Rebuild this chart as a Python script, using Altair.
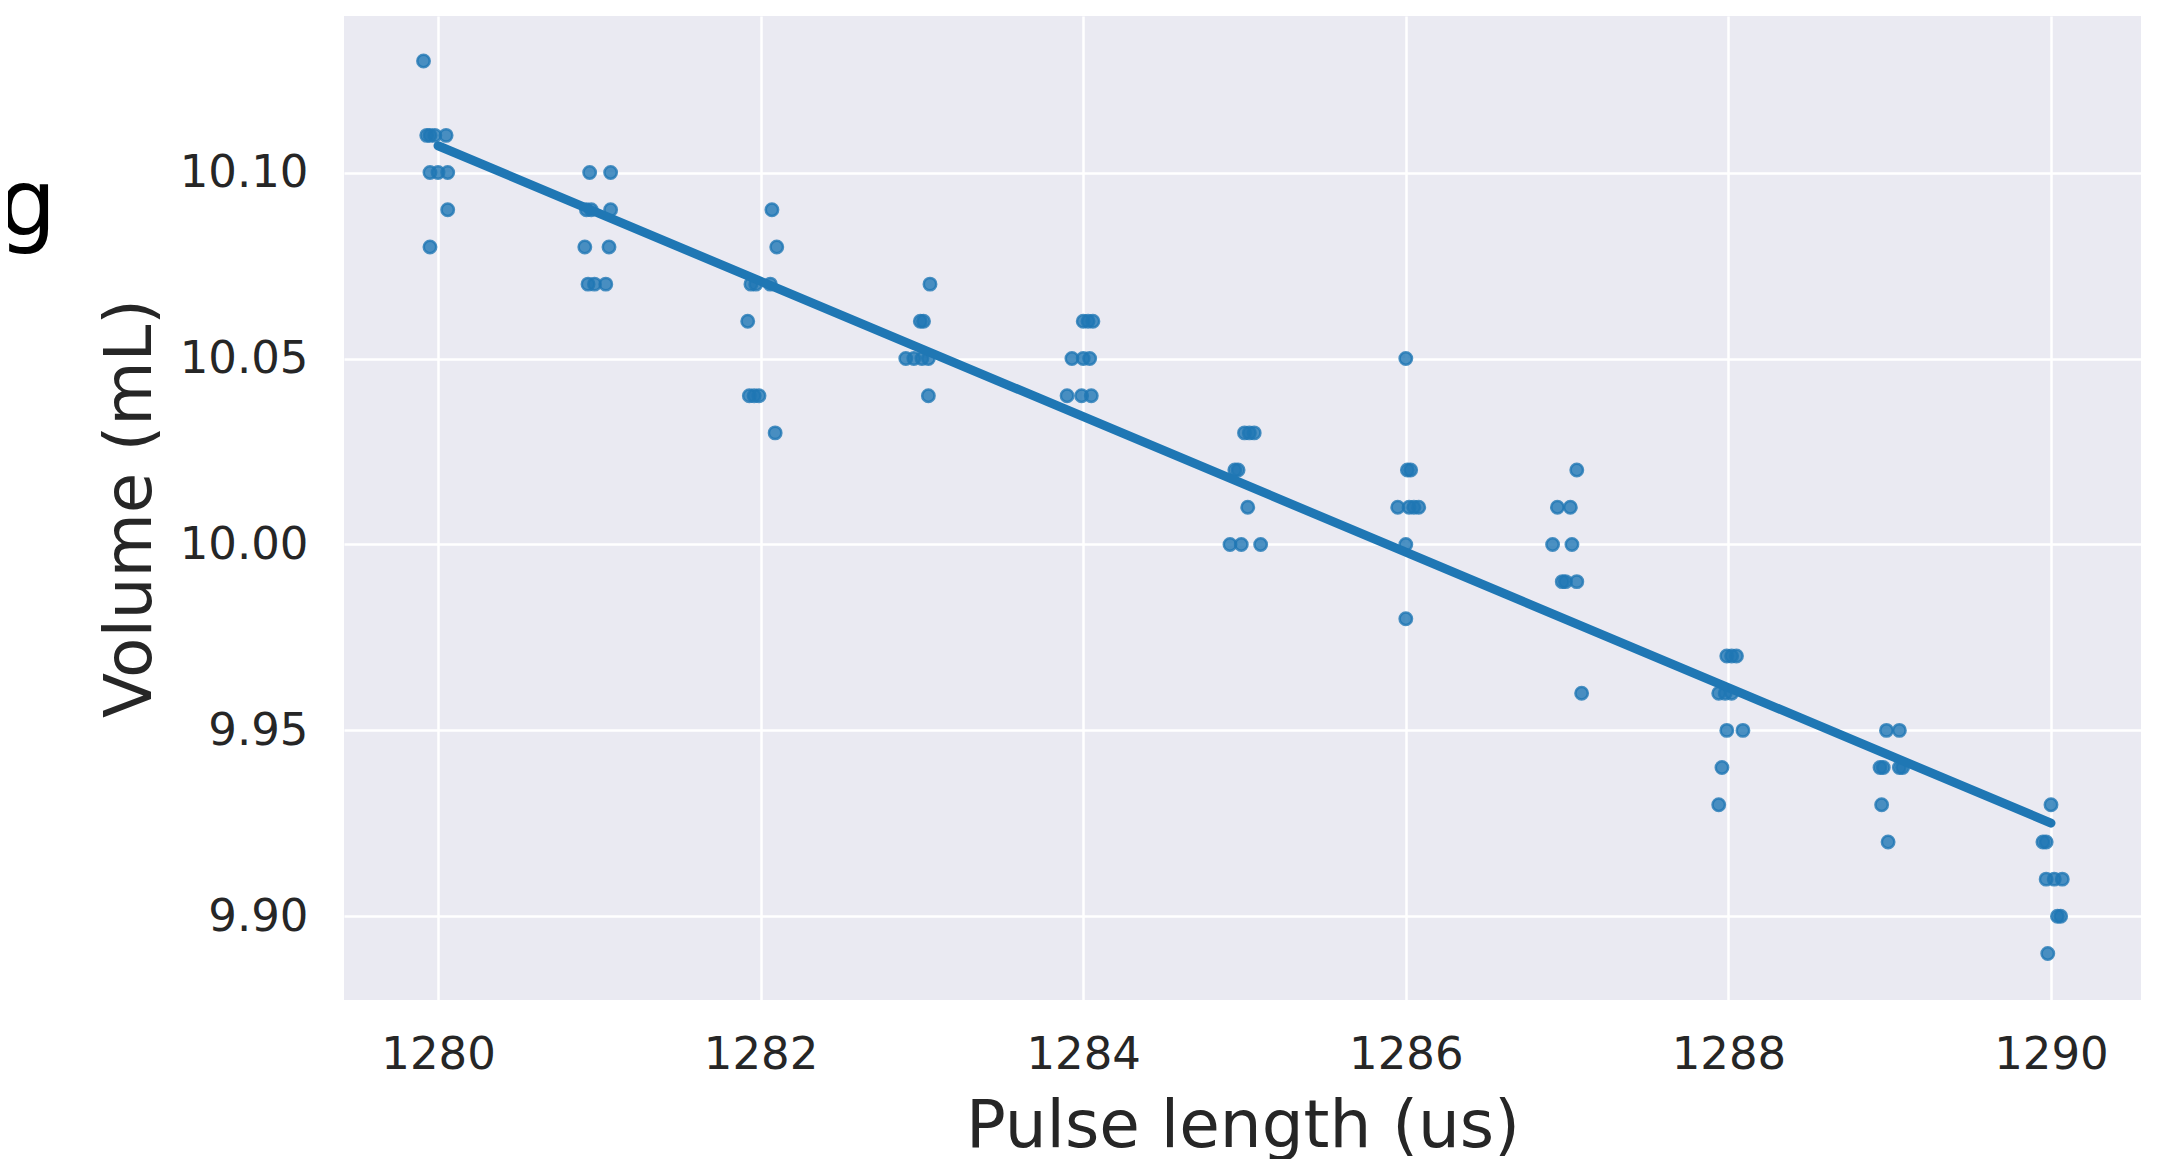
import altair as alt
import pandas as pd

# Pulse length (jittered x as drawn) and measured volume
x_vals = [
    1279.91,
    1279.93, 1279.95, 1279.98, 1280.05,
    1279.95, 1280.00, 1280.06,
    1280.06,
    1279.95,
    # 1281
    1280.94, 1281.07,
    1280.92, 1280.95, 1281.07,
    1280.91, 1281.06,
    1280.93, 1280.97, 1281.04,
    # 1282
    1282.07,
    1282.10,
    1281.94, 1281.97, 1282.06,
    1281.92,
    1281.93, 1281.96, 1281.99,
    1282.09,
    # 1283
    1283.05,
    1282.99, 1283.01,
    1282.90, 1282.95, 1283.00, 1283.04,
    1283.04,
    # 1284
    1284.00, 1284.03, 1284.06,
    1283.93, 1284.00, 1284.04,
    1283.90, 1283.99, 1284.05,
    # 1285
    1285.00, 1285.03, 1285.06,
    1284.94, 1284.96,
    1285.02,
    1284.91, 1284.98, 1285.10,
    # 1286
    1286.00,
    1286.01, 1286.03,
    1285.95, 1286.02, 1286.05, 1286.08,
    1286.00,
    1286.00,
    # 1287
    1287.06,
    1286.94, 1287.02,
    1286.91, 1287.03,
    1286.97, 1286.99, 1287.06,
    1287.09,
    # 1288
    1287.99, 1288.02, 1288.05,
    1287.94, 1287.98, 1288.02,
    1287.99, 1288.09,
    1287.96,
    1287.94,
    # 1289
    1288.98, 1289.06,
    1288.94, 1288.96, 1289.06, 1289.08,
    1288.95,
    1288.99,
    # 1290
    1290.00,
    1289.95, 1289.97,
    1289.97, 1290.02, 1290.07,
    1290.04, 1290.06,
    1289.98,
]
y_vals = [
    10.13,
    10.11, 10.11, 10.11, 10.11,
    10.10, 10.10, 10.10,
    10.09,
    10.08,
    # 1281
    10.10, 10.10,
    10.09, 10.09, 10.09,
    10.08, 10.08,
    10.07, 10.07, 10.07,
    # 1282
    10.09,
    10.08,
    10.07, 10.07, 10.07,
    10.06,
    10.04, 10.04, 10.04,
    10.03,
    # 1283
    10.07,
    10.06, 10.06,
    10.05, 10.05, 10.05, 10.05,
    10.04,
    # 1284
    10.06, 10.06, 10.06,
    10.05, 10.05, 10.05,
    10.04, 10.04, 10.04,
    # 1285
    10.03, 10.03, 10.03,
    10.02, 10.02,
    10.01,
    10.00, 10.00, 10.00,
    # 1286
    10.05,
    10.02, 10.02,
    10.01, 10.01, 10.01, 10.01,
    10.00,
    9.98,
    # 1287
    10.02,
    10.01, 10.01,
    10.00, 10.00,
    9.99, 9.99, 9.99,
    9.96,
    # 1288
    9.97, 9.97, 9.97,
    9.96, 9.96, 9.96,
    9.95, 9.95,
    9.94,
    9.93,
    # 1289
    9.95, 9.95,
    9.94, 9.94, 9.94, 9.94,
    9.93,
    9.92,
    # 1290
    9.93,
    9.92, 9.92,
    9.91, 9.91, 9.91,
    9.90, 9.90,
    9.89,
]

x_ticks = [1280, 1282, 1284, 1286, 1288, 1290]
y_ticks = [9.90, 9.95, 10.00, 10.05, 10.10]
x_domain = [1279.417, 1290.558]
y_domain = [9.8775, 10.1421]
fragment_text = ["g"]

df = pd.DataFrame({"x": x_vals, "y": y_vals})
BLUE = "#1f77b4"

x_scale = alt.Scale(domain=x_domain, nice=False, zero=False)
y_scale = alt.Scale(domain=y_domain, nice=False, zero=False)

x_axis = alt.Axis(
    values=x_ticks, format="d", title="Pulse length (us)",
    labelBaseline="alphabetic", labelPadding=68,
    titleBaseline="alphabetic", titleY=146,
)
y_axis = alt.Axis(
    values=y_ticks, format=".2f", title="Volume (mL)",
    labelPadding=36, labelBaseline="middle",
    titleAngle=270, titleBaseline="alphabetic", titleAlign="center",
    titleX=-194, titleY=492,
)

base = alt.Chart(df)

points = base.mark_circle(
    size=154, color=BLUE, opacity=1, fillOpacity=0.8,
    stroke=BLUE, strokeWidth=2.5, strokeOpacity=0.8,
).encode(
    x=alt.X("x:Q", scale=x_scale, axis=x_axis),
    y=alt.Y("y:Q", scale=y_scale, axis=y_axis),
)

line = base.transform_calculate(
    xi="round(datum.x)"
).transform_regression(
    "xi", "y", extent=[1280, 1290]
).mark_line(color=BLUE, strokeWidth=9, strokeCap="round").encode(
    x=alt.X("xi:Q", scale=x_scale),
    y=alt.Y("y:Q", scale=y_scale),
)

frag = alt.Chart(pd.DataFrame({"t": fragment_text})).mark_text(
    align="left", baseline="alphabetic", fontSize=92,
    font="DejaVu Sans", color="black",
).encode(x=alt.value(-346), y=alt.value(219), text="t:N")

chart = alt.layer(points, line, frag).properties(
    width=1797, height=984,
    autosize=alt.AutoSizeParams(type="none"),
    padding={"left": 336, "top": 8, "right": 10, "bottom": 159},
    background="white",
).configure_view(
    fill="#EAEAF2", stroke=None,
).configure_axis(
    grid=True, gridColor="white", gridWidth=2.5,
    domain=False, ticks=False, tickSize=0,
    labelFont="DejaVu Sans", titleFont="DejaVu Sans",
    labelFontSize=45, titleFontSize=66,
    labelColor="#262626", titleColor="#262626",
    titleFontWeight="normal",
)

chart.save("out.html", embed_options={"renderer": "svg", "actions": False})
